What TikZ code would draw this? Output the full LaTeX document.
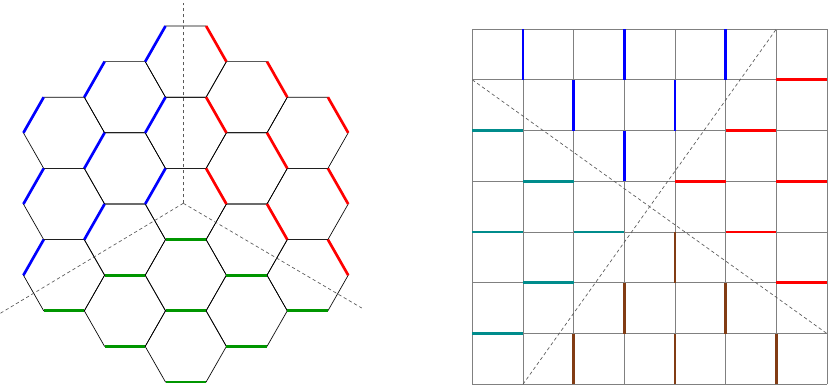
\documentclass[tikz,border=0pt]{standalone}
\usepackage{tikz}
\definecolor{edgeblue}{RGB}{0,0,255}
\definecolor{edgered}{RGB}{255,0,0}
\definecolor{edgegreen}{RGB}{0,150,0}
\definecolor{edgeteal}{RGB}{0,140,140}
\definecolor{edgebrown}{RGB}{130,60,20}

\begin{document}
\begin{tikzpicture}[
  x=0.75pt,y=0.75pt,
  hexline/.style={draw=black,line width=0.5pt},
  gridline/.style={draw=black!50,line width=0.6pt},
  axisline/.style={draw=black!65,line width=0.5pt,dash pattern=on 2.5pt off 2pt},
  coloured/.style={line width=2pt},
  blueedge/.style={coloured,draw=edgeblue},
  rededge/.style={coloured,draw=edgered},
  greenedge/.style={coloured,draw=edgegreen},
  tealedge/.style={coloured,draw=edgeteal},
  brownedge/.style={coloured,draw=edgebrown}
]
\useasboundingbox (0,0) rectangle (830,387);
\begin{scope}[shift={(185.8,183)},x=30.45pt,y=30.83pt]
\foreach \q/\rlo/\rhi in {-2/0/2,-1/-1/2,0/-2/2,1/-2/1,2/-2/0}
  \foreach \r in {\rlo,...,\rhi}
    \draw[hexline] ({1.5*\q},{0.866*(2*\r+\q)}) +(0:1) -- +(60:1) -- +(120:1) -- +(180:1) -- +(240:1) -- +(300:1) -- cycle;
\end{scope}
\coordinate (o) at (183.3,183.7);
\coordinate (up) at (183.3,384);
\coordinate (lft) at (0,73.5);
\coordinate (rgt) at (361.7,79);
\draw[axisline] (o) -- (up);
\draw[axisline] (o) -- (lft);
\draw[axisline] (o) -- (rgt);
\begin{scope}[shift={(185.8,183)},x=30.45pt,y=30.83pt]
\foreach \a in {0,1,2}
  \foreach \b in {0,1,2} {
    \draw[blueedge] ({-1.5*\a},{0.866*(2*\b-\a)}) +(180:1) -- +(120:1);
    \draw[rededge] ({1.5*\a},{0.866*(2*\b-\a)}) +(60:1) -- +(0:1);
    \draw[greenedge] ({1.5*(\b-\a)},{-0.866*(\a+\b)}) +(240:1) -- +(300:1);
  }
\end{scope}
\begin{scope}[shift={(472.3,2.7)},x=38pt,y=38.06pt]
\draw[gridline,step=1] (0,0) grid (7,7);
\draw[axisline] (0,6) -- (7,1);
\draw[axisline] (1,0) -- (6,7);
\foreach \i/\j in {1/6,3/6,5/6,2/5,4/5,3/4}
  \draw[blueedge] (\i,\j) -- ++(0,1);
\foreach \i/\j in {2/0,4/0,6/0,3/1,5/1,4/2}
  \draw[brownedge] (\i,\j) -- ++(0,1);
\foreach \i/\j in {0/5,1/4,0/3,2/3,1/2,0/1}
  \draw[tealedge] (\i,\j) -- ++(1,0);
\foreach \i/\j in {6/6,5/5,4/4,6/4,5/3,6/2}
  \draw[rededge] (\i,\j) -- ++(1,0);
\end{scope}
\end{tikzpicture}
\end{document}
